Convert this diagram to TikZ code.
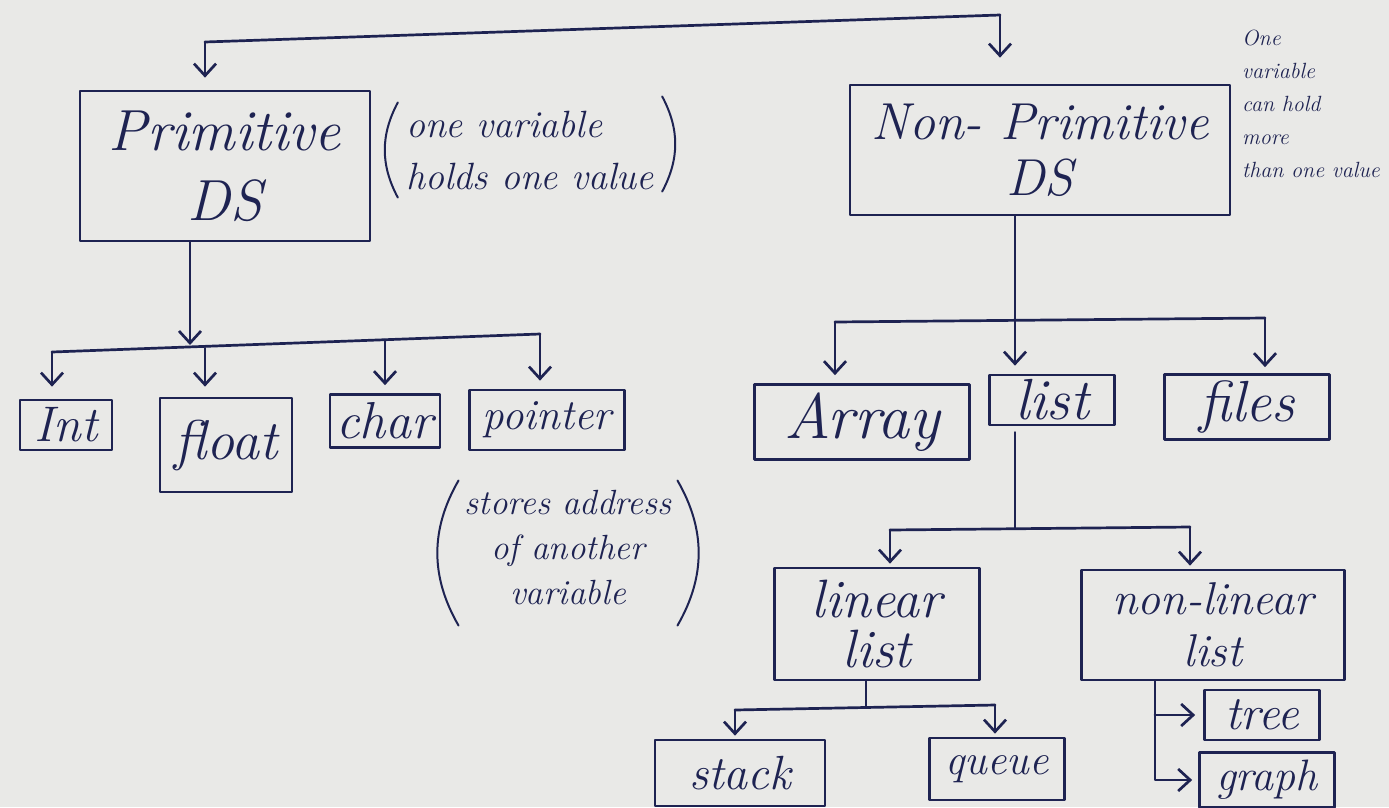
\documentclass[tikz,border=0pt]{standalone}
\usetikzlibrary{arrows.meta}
\definecolor{ink}{HTML}{1E2352}
\definecolor{paper}{HTML}{E9E9E7}
\newcommand{\fs}[2]{\fontsize{#1}{#2}\selectfont\itshape}
\tikzset{
  ink/.style={draw=ink, line width=2.7pt, line cap=round, line join=round},
  box/.style={ink, text=ink, inner sep=0pt, align=center},
  note/.style={text=ink, inner sep=0pt},
  paren/.style={draw=ink, line width=2pt, line cap=round},
  wire/.style={ink},
  arr/.style={ink, -{Straight Barb[length=12pt,width=22pt,line width=2.7pt]}, shorten >=3pt},
}
\begin{document}
\begin{tikzpicture}[x=1pt,y=-1pt]
\useasboundingbox (0,0) rectangle (1389,807);
\fill[paper] (0,0) rectangle (1389,807);

% main boxes
\node[box, font=\fs{58}{70}, minimum width=290pt, minimum height=150pt] (prim) at (225,166) {Primitive\\DS};
\node[box, font=\fs{52}{56}, minimum width=380pt, minimum height=130pt] (nonprim) at (1040,150) {Non- Primitive\\DS};

% primitive children
\node[box, font=\fs{50}{56}, minimum width=92pt, minimum height=50pt] (int) at (66,425) {Int};
\node[box, font=\fs{56}{60}, minimum width=132pt, minimum height=94pt] (float) at (226,445) {float};
\node[box, font=\fs{52}{56}, minimum width=110pt, minimum height=53pt] (char) at (385,421) {char};
\node[box, font=\fs{43}{48}, minimum width=155pt, minimum height=60pt] (pointer) at (547,420) {pointer};

% non-primitive children
\node[box, font=\fs{64}{68}, minimum width=215pt, minimum height=75pt] (array) at (862,422) {Array};
\node[box, font=\fs{58}{62}, minimum width=125pt, minimum height=50pt] (list) at (1052,400) {list};
\node[box, font=\fs{58}{62}, minimum width=165pt, minimum height=65pt] (files) at (1247,407) {files};

% list children
\node[box, font=\fs{54}{50}, minimum width=205pt, minimum height=112pt] (linear) at (877,624) {linear\\list};
\node[box, font=\fs{46}{52}, minimum width=263pt, minimum height=110pt] (nonlinear) at (1213,625) {non-linear\\list};

\node[box, font=\fs{48}{52}, minimum width=170pt, minimum height=66pt] (stack) at (740,773) {stack};
\node[box, font=\fs{43}{48}, minimum width=135pt, minimum height=62pt] (queue) at (997,769) {queue};
\node[box, font=\fs{48}{52}, minimum width=115pt, minimum height=50pt] (tree) at (1262,715) {tree};
\node[box, font=\fs{44}{48}, minimum width=135pt, minimum height=55pt] (graph) at (1267,780) {graph};

% notes
\node[note, font=\fs{38}{52}, align=left] (n1) at (530,150) {one variable\\holds one value};
\draw[paren] ([xshift=-8pt,yshift=8pt]n1.north west) to[bend right=28] ([xshift=-8pt,yshift=-8pt]n1.south west);
\draw[paren] ([xshift=8pt,yshift=14pt]n1.north east) to[bend left=28] ([xshift=8pt,yshift=-2pt]n1.south east);
\node[note, font=\fs{22}{33}, align=left, anchor=north west] (n2) at (1242,30)
  {One\\variable\\can hold\\more\\than one value};
\node[note, font=\fs{35}{45}, align=center] (n3) at (568,548) {stores address\\of another\\variable};
\draw[paren] ([xshift=-6pt,yshift=10pt]n3.north west) to[bend right=30] ([xshift=-6pt,yshift=-20pt]n3.south west);
\draw[paren] ([xshift=6pt,yshift=10pt]n3.north east) to[bend left=30] ([xshift=6pt,yshift=-20pt]n3.south east);

% top connector
\coordinate (tl) at (205,42);
\coordinate (tr) at (1000,15);
\draw[wire] (tl) -- (tr);
\draw[arr, shorten >=12pt] (tl) -- (prim.north -| tl);
\draw[arr, shorten >=26pt] (tr) -- (nonprim.north -| tr);

% primitive branch
\coordinate (pb) at (190,345);
\coordinate (b1l) at (52,352);
\coordinate (b1f) at (205,348);
\coordinate (b1c) at (385,340);
\coordinate (b1r) at (540,334);
\draw[arr, shorten >=0pt] (prim.south -| pb) -- (pb);
\draw[wire] (b1l) -- (b1r);
\draw[arr, shorten >=12pt] (b1l) -- (int.north -| b1l);
\draw[arr, shorten >=10pt] (b1f) -- (float.north -| b1f);
\draw[arr, shorten >=8pt] (b1c) -- (char.north -| b1c);
\draw[arr, shorten >=8pt] (b1r) -- (pointer.north -| b1r);

% non-primitive branch
\coordinate (b2c) at (1015,322);
\coordinate (b2l) at (835,322);
\coordinate (b2r) at (1265,318);
\draw[wire] (nonprim.south -| b2c) -- (b2c);
\draw[wire] (b2l) -- (b2r);
\draw[arr, shorten >=8pt] (b2l) -- (array.north -| b2l);
\draw[arr, shorten >=8pt] (b2c) -- (list.north -| b2c);
\draw[arr, shorten >=6pt] (b2r) -- (files.north -| b2r);

% list branch
\coordinate (b3c) at (1015,528);
\coordinate (b3l) at (890,530);
\coordinate (b3r) at (1190,527);
\draw[wire, shorten <=6pt] (list.south -| b3c) -- (b3c);
\draw[wire] (b3l) -- (b3r);
\draw[arr] (b3l) -- (linear.north -| b3l);
\draw[arr] (b3r) -- (nonlinear.north -| b3r);

% linear list branch
\coordinate (b4c) at (866,707);
\coordinate (b4l) at (735,710);
\coordinate (b4r) at (995,705);
\draw[wire] (linear.south -| b4c) -- (b4c);
\draw[wire] (b4l) -- (b4r);
\draw[arr] (b4l) -- (stack.north -| b4l);
\draw[arr] (b4r) -- (queue.north -| b4r);

% non-linear list branch
\coordinate (nl) at (1155,680);
\draw[arr, shorten >=6pt] (nonlinear.south -| nl) |- (graph.west);
\draw[arr, shorten >=8pt] (tree.west -| nl) -- (tree.west);
\end{tikzpicture}
\end{document}
